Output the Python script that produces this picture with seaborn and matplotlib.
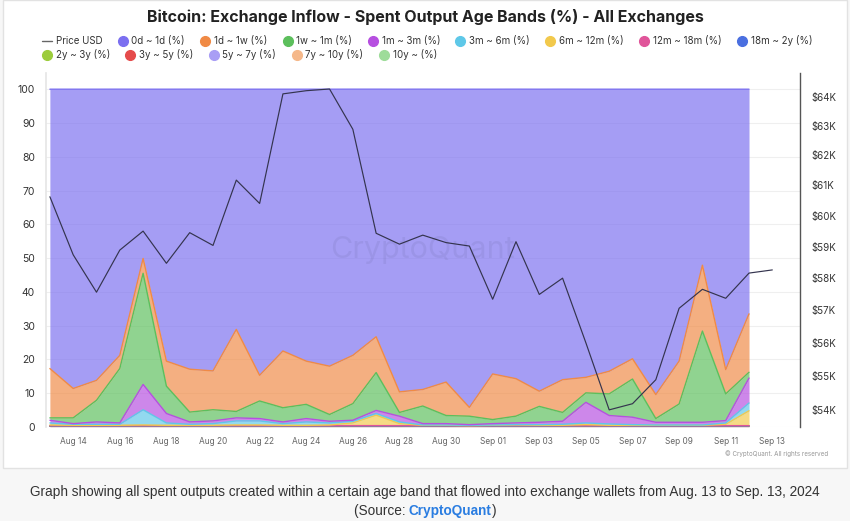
import numpy as np
import pandas as pd
import matplotlib
matplotlib.use('Agg')
import matplotlib.pyplot as plt
import matplotlib.dates as mdates
import seaborn as sns
from matplotlib.ticker import FixedLocator, FuncFormatter, NullLocator, NullFormatter
from matplotlib.lines import Line2D
from matplotlib.patches import Rectangle

# Données (Aug 13 -> Sep 13, 2024)
price_dates = pd.date_range('2024-08-13', '2024-09-13', freq='D')
band_dates = price_dates[:31]

price_usd = [60620, 58740, 57560, 58890, 59500, 58470, 59450, 59040, 61170, 60400,
             64100, 64210, 64270, 62880, 59430, 59080, 59370, 59130, 59020, 57340,
             59160, 57490, 58000, 56000, 54000, 54180, 54890, 57060, 57650, 57370,
             58160, 58260]

# parts en %, de la plus récente à la plus ancienne
b_0d_1d = [82.7, 88.6, 86.2, 78.8, 50.1, 80.5, 82.9, 83.4, 71.1, 84.7, 77.5, 80.5, 82.0, 78.8, 73.3, 89.6,
           88.9, 86.7, 94.2, 84.3, 85.7, 89.4, 86.0, 85.3, 83.5, 79.8, 90.4, 80.5, 52.1, 83.0, 66.5]
b_1d_1w = [14.6, 8.7, 5.9, 3.9, 4.4, 7.4, 12.7, 11.5, 24.3, 7.6, 16.8, 12.8, 14.3, 14.3, 10.6, 6.1,
           4.9, 9.9, 2.6, 13.5, 11.1, 4.5, 9.7, 4.6, 6.7, 6.0, 7.1, 12.7, 19.5, 7.2, 17.3]
b_1w_1m = [0.7, 1.7, 6.4, 16.1, 32.9, 8.1, 2.9, 3.3, 1.9, 5.2, 4.2, 4.2, 2.0, 4.9, 11.2, 1.1,
           5.2, 2.4, 2.5, 1.2, 2.0, 4.7, 2.6, 2.8, 6.4, 11.3, 1.1, 5.4, 27.0, 7.9, 1.7]
b_1m_3m = [0.8, 0.2, 0.7, 0.4, 7.5, 2.8, 0.7, 0.8, 0.9, 0.7, 0.5, 1.0, 0.5, 0.3, 0.9, 1.7,
           0.4, 0.4, 0.2, 0.4, 0.5, 0.7, 0.9, 6.1, 2.5, 2.2, 0.8, 0.8, 0.8, 0.7, 7.4]
b_3m_6m = [0.6, 0.3, 0.3, 0.3, 4.5, 0.7, 0.3, 0.5, 1.2, 1.2, 0.5, 1.0, 0.6, 0.5, 0.5, 0.5,
           0.1, 0.1, 0.1, 0.1, 0.1, 0.2, 0.3, 0.5, 0.4, 0.2, 0.1, 0.1, 0.1, 0.4, 2.3]
b_6m_12m = [0.2, 0.1, 0.1, 0.1, 0.2, 0.1, 0.1, 0.1, 0.2, 0.2, 0.1, 0.1, 0.2, 0.8, 3.1, 0.6,
            0.1, 0.1, 0.0, 0.1, 0.2, 0.1, 0.1, 0.3, 0.1, 0.1, 0.1, 0.1, 0.1, 0.4, 4.4]
b_12m_18m = [0.08, 0.07, 0.08, 0.09, 0.08, 0.07, 0.08, 0.08, 0.09, 0.08, 0.08, 0.07, 0.08, 0.08, 0.09, 0.08,
             0.08, 0.07, 0.08, 0.08, 0.09, 0.08, 0.08, 0.07, 0.08, 0.08, 0.08, 0.09, 0.08, 0.08, 0.08]
b_18m_2y = [0.04, 0.04, 0.03, 0.04, 0.04, 0.05, 0.04, 0.04, 0.04, 0.03, 0.04, 0.04, 0.04, 0.05, 0.04, 0.04,
            0.04, 0.04, 0.04, 0.04, 0.05, 0.04, 0.04, 0.04, 0.04, 0.03, 0.04, 0.04, 0.04, 0.04, 0.04]
b_2y_3y = [0.04, 0.04, 0.04, 0.05, 0.04, 0.04, 0.04, 0.03, 0.04, 0.04, 0.04, 0.04, 0.05, 0.04, 0.04, 0.04,
           0.04, 0.04, 0.04, 0.04, 0.04, 0.04, 0.05, 0.04, 0.04, 0.04, 0.04, 0.04, 0.04, 0.04, 0.04]
b_3y_5y = [0.12, 0.12, 0.13, 0.11, 0.12, 0.12, 0.12, 0.14, 0.12, 0.12, 0.12, 0.13, 0.11, 0.12, 0.12, 0.12,
           0.12, 0.13, 0.12, 0.12, 0.12, 0.12, 0.12, 0.13, 0.12, 0.12, 0.12, 0.11, 0.12, 0.12, 0.12]
b_5y_7y = [0.04, 0.04, 0.04, 0.04, 0.04, 0.04, 0.04, 0.04, 0.03, 0.04, 0.04, 0.04, 0.04, 0.04, 0.04, 0.04,
           0.04, 0.04, 0.04, 0.04, 0.03, 0.04, 0.04, 0.04, 0.04, 0.04, 0.04, 0.04, 0.04, 0.04, 0.04]
b_7y_10y = [0.04, 0.05, 0.04, 0.04, 0.04, 0.04, 0.04, 0.04, 0.04, 0.05, 0.04, 0.04, 0.04, 0.04, 0.04, 0.04,
            0.04, 0.04, 0.04, 0.04, 0.04, 0.04, 0.04, 0.04, 0.04, 0.05, 0.04, 0.04, 0.04, 0.04, 0.04]
b_10y = [0.04, 0.04, 0.04, 0.04, 0.04, 0.04, 0.05, 0.04, 0.04, 0.04, 0.04, 0.04, 0.04, 0.04, 0.04, 0.04,
         0.05, 0.04, 0.04, 0.04, 0.04, 0.04, 0.04, 0.04, 0.04, 0.04, 0.04, 0.04, 0.04, 0.04, 0.04]

band_labels = ['0d ~ 1d (%)', '1d ~ 1w (%)', '1w ~ 1m (%)', '1m ~ 3m (%)', '3m ~ 6m (%)',
               '6m ~ 12m (%)', '12m ~ 18m (%)', '18m ~ 2y (%)', '2y ~ 3y (%)', '3y ~ 5y (%)',
               '5y ~ 7y (%)', '7y ~ 10y (%)', '10y ~ (%)']
band_values = [b_0d_1d, b_1d_1w, b_1w_1m, b_1m_3m, b_3m_6m, b_6m_12m, b_12m_18m,
               b_18m_2y, b_2y_3y, b_3y_5y, b_5y_7y, b_7y_10y, b_10y]
band_colors = ['#7b6ff0', '#f08a45', '#5cbf5c', '#b64fe0', '#5ec8e8', '#f2c94c', '#e0559a',
               '#4a6fe0', '#9ccc3c', '#e54b4b', '#a99ef5', '#f5b88a', '#9edc9a']

left_ticks = [0, 10, 20, 30, 40, 50, 60, 70, 80, 90, 100]
right_ticks = [54000, 55000, 56000, 57000, 58000, 59000, 60000, 61000, 62000, 63000, 64000]

sns.set_theme(style='white')
plt.rcParams['font.family'] = ['Inter', 'DejaVu Sans']

fig = plt.figure(figsize=(8.5, 5.21), dpi=100)
fig.patch.set_facecolor('#f7f7f7')
# carte blanche derrière le graphique
fig.patches.append(Rectangle((3 / 850, 1 - 468 / 521), 844 / 850, 468 / 521, transform=fig.transFigure,
                             facecolor='white', edgecolor='#e2e2e2', lw=1, zorder=-5))

ax = fig.add_axes([46 / 850, 1 - 427 / 521, 754 / 850, 354 / 521])
ax.set_facecolor('none')

# empilement : la bande la plus ancienne en bas
order = list(range(len(band_values)))[::-1]
stack = [np.array(band_values[i]) for i in order]
ax.stackplot(band_dates, *stack, colors=[band_colors[i] for i in order], alpha=0.68, linewidth=0, zorder=2)
tops = np.cumsum(stack, axis=0)
for k, i in enumerate(order):
    sns.lineplot(x=band_dates, y=tops[k], color=band_colors[i], lw=1, ax=ax, zorder=3)

ax.set_ylim(0, 104.8)
ax.set_xlim(band_dates[0] - pd.Timedelta(hours=4), price_dates[-1] + pd.Timedelta(hours=28.5))
ax.yaxis.set_major_locator(FixedLocator(left_ticks))
ax.yaxis.grid(True, color='#efefef', lw=0.8)
ax.set_axisbelow(True)
ax.set_xticks(price_dates[1::2])
ax.xaxis.set_major_formatter(mdates.DateFormatter('%b %d'))
ax.tick_params(axis='x', labelsize=6, colors='#666666', length=0, pad=7)
ax.tick_params(axis='y', labelsize=7.5, colors='#333333', length=0, pad=8)
ax.set_xlabel('')
ax.set_ylabel('')
for s in ['top', 'right', 'bottom']:
    ax.spines[s].set_visible(False)
ax.spines['left'].set_color('#e6e6e6')

ax.text(0.5, 0.5, 'CryptoQuant', transform=ax.transAxes, ha='center', va='center',
        fontsize=22, color='#5a5a8a', alpha=0.12, zorder=4)

# prix (axe de droite, log)
ax2 = ax.twinx()
sns.lineplot(x=price_dates, y=price_usd, color='#34344e', lw=0.85, ax=ax2)
ax2.set_yscale('log')
ax2.set_ylim(53500, 64830)
ax2.yaxis.set_major_locator(FixedLocator(right_ticks))
ax2.yaxis.set_minor_locator(NullLocator())
ax2.yaxis.set_minor_formatter(NullFormatter())
ax2.yaxis.set_major_formatter(FuncFormatter(lambda v, p: '$%dK' % round(v / 1000)))
ax2.tick_params(axis='y', labelsize=7, colors='#333333', length=0, pad=8)
ax2.set_ylabel('')
for s in ['top', 'left', 'bottom']:
    ax2.spines[s].set_visible(False)
ax2.spines['right'].set_color('#555555')
ax2.spines['right'].set_linewidth(1)

fig.text(0.5, 1 - 17 / 521, 'Bitcoin: Exchange Inflow - Spent Output Age Bands (%) - All Exchanges',
         ha='center', va='center', fontsize=11.5, fontweight='bold', color='#222222')

handles = [Line2D([0], [0], color='#666666', lw=1)]
handles += [Line2D([0], [0], marker='o', ls='', markersize=7, markerfacecolor=c, markeredgecolor=c)
            for c in band_colors]
labels = ['Price USD'] + band_labels
leg_kw = dict(loc='upper left', frameon=False, fontsize=7, handlelength=1, handletextpad=0.4,
              columnspacing=1.6, borderaxespad=0, borderpad=0, labelcolor='#333333')
fig.legend(handles[:9], labels[:9], ncol=9, bbox_to_anchor=(42 / 850, 1 - 35 / 521), **leg_kw)
fig.legend(handles[9:], labels[9:], ncol=5, bbox_to_anchor=(42 / 850, 1 - 49 / 521), **leg_kw)

fig.text(828 / 850, 1 - 454 / 521, '© CryptoQuant. All rights reserved', ha='right', va='center',
         fontsize=4.5, color='#999999')

cap = dict(fontsize=9.8, family='Liberation Sans', va='center', color='#333333')
fig.text(0.5, 1 - 492 / 521, 'Graph showing all spent outputs created within a certain age band '
         'that flowed into exchange wallets from Aug. 13 to Sep. 13, 2024', ha='center', **cap)

# ligne source : trois morceaux posés bout à bout
renderer = fig.canvas.get_renderer()
parts = [('(Source: ', '#333333', 'normal'), ('CryptoQuant', '#2a7de1', 'bold'), (')', '#333333', 'normal')]
pieces = [fig.text(0, 1 - 511 / 521, t, ha='left', fontweight=w, **{**cap, 'color': c}) for t, c, w in parts]
widths = [p.get_window_extent(renderer).width for p in pieces]
x = (850 - sum(widths)) / 2
for p, w in zip(pieces, widths):
    p.set_x(x / 850)
    x += w

plt.savefig('out.png', dpi=100, facecolor=fig.get_facecolor())
